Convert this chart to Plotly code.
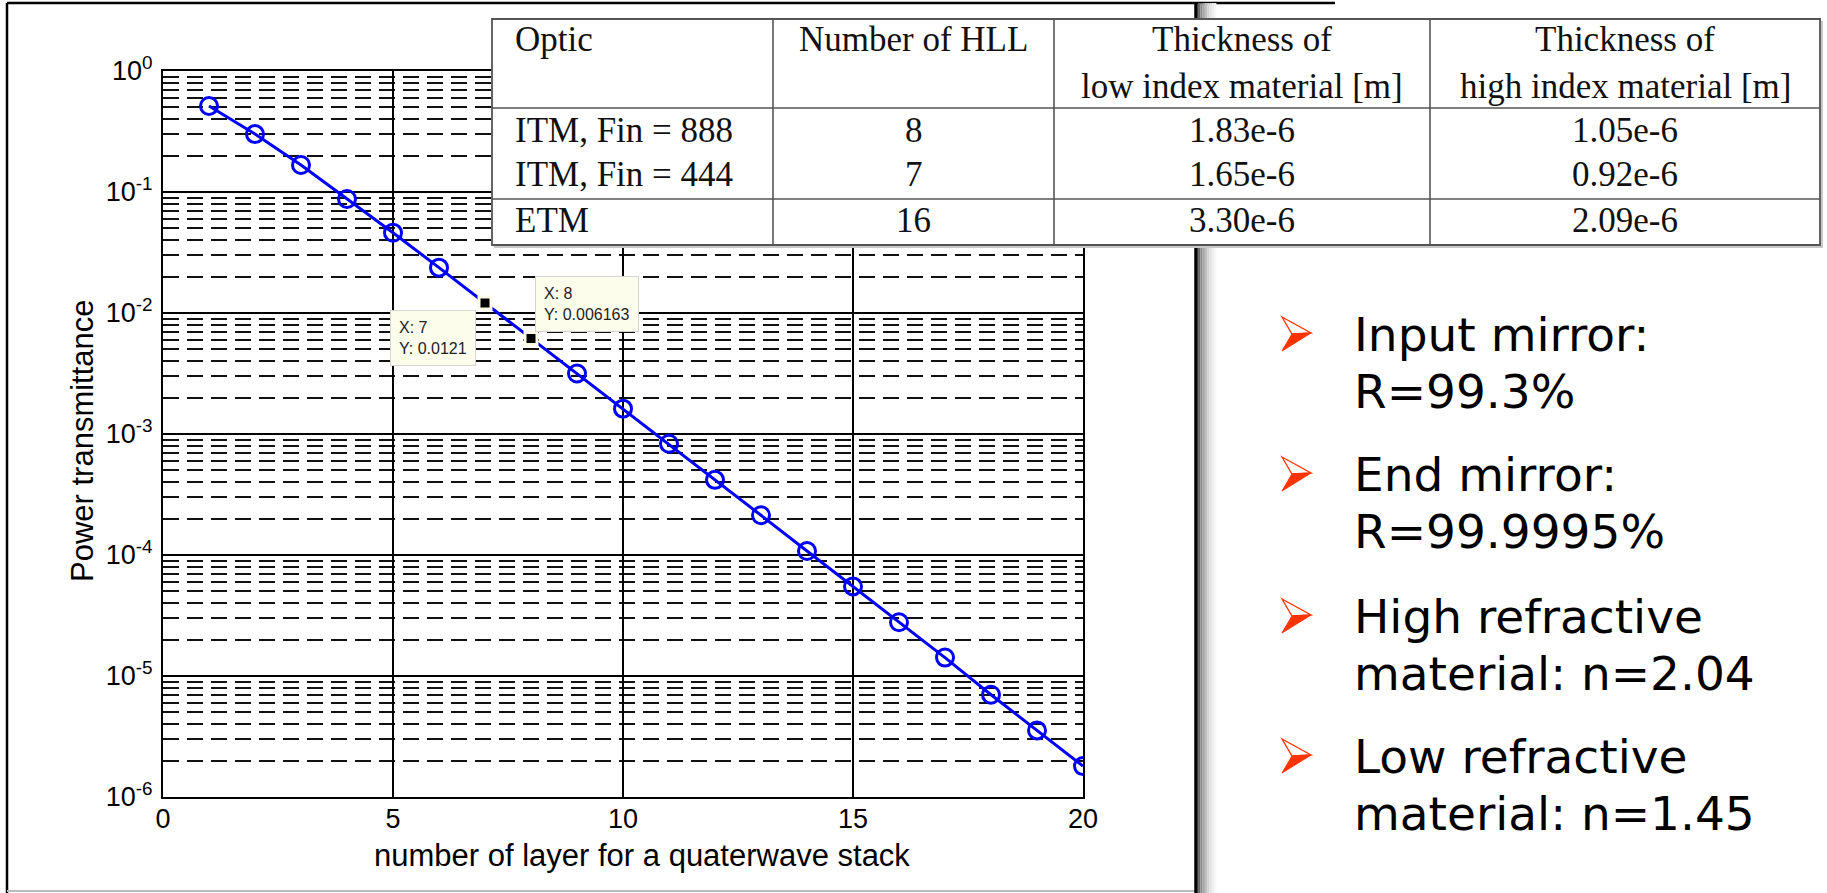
import numpy as np
import plotly.graph_objects as go

# ---------------------------------------------------------------- data
layers = list(range(1, 21))
transmittance = [0.514, 0.301, 0.167, 0.0875, 0.0461, 0.0237, 0.0121, 0.006163,
                 0.00316, 0.00162, 0.00083, 0.000418, 0.000213, 0.000108,
                 5.5e-5, 2.78e-5, 1.42e-5, 7.0e-6, 3.55e-6, 1.8e-6]
tip_layers = [7, 8]

x_ticks = [0, 5, 10, 15, 20]
y_major = [1e-6, 1e-5, 1e-4, 1e-3, 1e-2, 1e-1, 1e0]
y_major_text = ["10<sup>-6</sup>", "10<sup>-5</sup>", "10<sup>-4</sup>", "10<sup>-3</sup>",
                "10<sup>-2</sup>", "10<sup>-1</sup>", "10<sup>0</sup>"]

table_header_1 = ["Optic", "Number of HLL", "Thickness of", "Thickness of"]
table_header_2 = ["", "", "low index material [m]", "high index material [m]"]
table_optic = ["ITM, Fin = 888", "ITM, Fin = 444", "ETM"]
table_hll = ["8", "7", "16"]
table_low = ["1.83e-6", "1.65e-6", "3.30e-6"]
table_high = ["1.05e-6", "0.92e-6", "2.09e-6"]

bullets = [("Input mirror:", "R=99.3%"),
           ("End mirror:", "R=99.9995%"),
           ("High refractive", "material: n=2.04"),
           ("Low refractive", "material: n=1.45")]

# ---------------------------------------------------------------- page geometry (pixels)
W, H = 1827, 893
PL, PR, PT, PB = 163, 1083, 71, 797


def px(x):
    return (x - PL) / (PR - PL)


def py(y):
    return (PB - y) / (PB - PT)


SANS = "Liberation Sans, Arial, sans-serif"
SERIF = "Liberation Serif, Times New Roman, serif"
SLIDE = "DejaVu Sans, Verdana, sans-serif"
BLUE = "#0000FF"

fig = go.Figure()

# curve
fig.add_trace(go.Scatter(x=layers, y=transmittance, mode="lines",
                         line=dict(color=BLUE, width=3), hoverinfo="skip"))
circ_x = [l for l in layers if l not in tip_layers]
circ_y = [t for l, t in zip(layers, transmittance) if l not in tip_layers]
fig.add_trace(go.Scatter(x=circ_x, y=circ_y, mode="markers",
                         marker=dict(symbol="circle-open", size=17, color=BLUE,
                                     line=dict(width=3, color=BLUE))))
tip_x = [l for l in layers if l in tip_layers]
tip_y = [t for l, t in zip(layers, transmittance) if l in tip_layers]
fig.add_trace(go.Scatter(x=tip_x, y=tip_y, mode="markers",
                         marker=dict(symbol="square", size=12, color="black",
                                     line=dict(width=3, color="#FBFBE6"))))

minor_vals = [m * 10.0 ** e for e in range(-6, 0) for m in range(2, 10)]

fig.update_layout(
    width=W, height=H, showlegend=False,
    paper_bgcolor="white", plot_bgcolor="white",
    margin=dict(l=PL, r=W - PR, t=PT, b=H - PB, autoexpand=False),
    xaxis=dict(range=[0, 20], tickvals=x_ticks, ticks="", showgrid=True,
               gridcolor="black", gridwidth=1.5, zeroline=False,
               showline=True, linecolor="black", linewidth=2, mirror=True,
               tickfont=dict(family=SANS, size=27, color="black"),
               ticklabelstandoff=-3),
    yaxis=dict(type="log", range=[-6, 0], tickvals=y_major, ticktext=y_major_text,
               ticks="", showgrid=True, gridcolor="black", gridwidth=2,
               zeroline=False, showline=True, linecolor="black", linewidth=2,
               mirror=True, ticklabelstandoff=3,
               tickfont=dict(family=SANS, size=27, color="black"),
               minor=dict(tickvals=minor_vals, showgrid=True, gridcolor="#111111",
                          gridwidth=2, griddash="16px,8px", ticks="")),
)

shapes = []
anns = []

# axis labels
AXF = dict(family=SANS, size=31, color="black")
anns.append(dict(text="Power transmittance", xref="paper", yref="paper",
                 x=px(83), y=py(441), xanchor="center", yanchor="middle",
                 textangle=-90, showarrow=False, font=AXF))
anns.append(dict(text="number of layer for a quaterwave stack", xref="paper", yref="paper",
                 x=px(642), y=py(855), xanchor="center", yanchor="middle",
                 showarrow=False, font=AXF))

# figure window frame
shapes.append(dict(type="line", xref="paper", yref="paper", x0=px(7), x1=px(7),
                   y0=py(3), y1=py(893), line=dict(color="black", width=2.5), layer="above"))
shapes.append(dict(type="line", xref="paper", yref="paper", x0=px(7), x1=px(1335),
                   y0=py(3), y1=py(3), line=dict(color="black", width=2.5), layer="above"))
shapes.append(dict(type="line", xref="paper", yref="paper", x0=px(7), x1=px(1196),
                   y0=py(891), y1=py(891), line=dict(color="#BBBBBB", width=2), layer="above"))
shade = ["#6a6a6a", "#8a8a8a", "#a6a6a6", "#bebebe", "#d2d2d2", "#e2e2e2", "#eeeeee", "#f7f7f7"]
for i, c in enumerate(shade):
    shapes.append(dict(type="rect", xref="paper", yref="paper",
                       x0=px(1198 + 2.3 * i), x1=px(1200.3 + 2.3 * i), y0=py(3), y1=py(893),
                       line=dict(width=0), fillcolor=c, layer="above"))
shapes.append(dict(type="line", xref="paper", yref="paper", x0=px(1196), x1=px(1196),
                   y0=py(3), y1=py(893), line=dict(color="black", width=3.5), layer="above"))

# table
cols = [492, 773, 1054, 1430, 1820]
rows = [19, 108, 199, 245]
shapes.append(dict(type="rect", xref="paper", yref="paper", x0=px(cols[0] + 2), x1=px(cols[-1] + 3),
                   y0=py(rows[-1] + 3), y1=py(rows[0] + 2), line=dict(width=0),
                   fillcolor="#c8c8c8", layer="above"))
shapes.append(dict(type="rect", xref="paper", yref="paper", x0=px(cols[0]), x1=px(cols[-1]),
                   y0=py(rows[-1]), y1=py(rows[0]), line=dict(color="#555555", width=1.8),
                   fillcolor="white", layer="above"))
for cx in cols[1:-1]:
    shapes.append(dict(type="line", xref="paper", yref="paper", x0=px(cx), x1=px(cx),
                       y0=py(rows[0]), y1=py(rows[-1]), line=dict(color="#555555", width=1.6),
                       layer="above"))
for ry in rows[1:-1]:
    shapes.append(dict(type="line", xref="paper", yref="paper", x0=px(cols[0]), x1=px(cols[-1]),
                       y0=py(ry), y1=py(ry), line=dict(color="#555555", width=1.6),
                       layer="above"))

TF = dict(family=SERIF, size=35, color="#111111")


def cell(text, col, yc):
    if col == 0:
        anns.append(dict(text=text, xref="paper", yref="paper", x=px(513), y=py(yc),
                         xanchor="left", yanchor="middle", showarrow=False, font=TF))
    else:
        xc = (cols[col] + cols[col + 1]) / 2
        anns.append(dict(text=text, xref="paper", yref="paper", x=px(xc), y=py(yc),
                         xanchor="center", yanchor="middle", showarrow=False, font=TF))


for c in range(4):
    cell(table_header_1[c], c, 39)
    if table_header_2[c]:
        cell(table_header_2[c], c, 86)
body_rows_y = [131, 174, 221]
for r in range(3):
    cell(table_optic[r], 0, body_rows_y[r])
    cell(table_hll[r], 1, body_rows_y[r])
    cell(table_low[r], 2, body_rows_y[r])
    cell(table_high[r], 3, body_rows_y[r])

# data tips
tip_offsets = {7: dict(xanchor="right", yanchor="top", xshift=-9, yshift=-7),
               8: dict(xanchor="left", yanchor="bottom", xshift=4, yshift=6)}
for lx, ly in zip(tip_x, tip_y):
    anns.append(dict(text=f"X: {lx}<br>Y: {ly}", xref="x", yref="y", x=lx, y=np.log10(ly),
                     showarrow=False, align="left", bgcolor="#FDFDEC", bordercolor="#D4D4D4",
                     borderwidth=1, borderpad=8,
                     font=dict(family=SANS, size=16, color="#222222"), **tip_offsets[lx]))

# bullet list
first_baselines = [351, 491, 633, 773]
line_gap = 57
BF = dict(family=SLIDE, size=47, color="black")
for (l1, l2), yb in zip(bullets, first_baselines):
    for text, base in ((l1, yb), (l2, yb + line_gap)):
        anns.append(dict(text=text, xref="paper", yref="paper", x=px(1352),
                         y=py(base - 16.3), xanchor="left", yanchor="middle",
                         showarrow=False, font=BF))
    x0 = 1282
    tl, tip, bl, notch = (x0, yb - 34), (x0 + 29, yb - 18), (x0, yb), (x0 + 10, yb - 17)

    def path(pts):
        return "M " + " L ".join(f"{px(a):.5f},{py(b):.5f}" for a, b in pts) + " Z"

    shapes.append(dict(type="path", xref="paper", yref="paper", path=path([tl, tip, notch]),
                       fillcolor="white", line=dict(color="#FF3300", width=1.3), layer="above"))
    shapes.append(dict(type="path", xref="paper", yref="paper", path=path([notch, tip, bl]),
                       fillcolor="#FF3300", line=dict(color="#FF3300", width=1), layer="above"))

fig.update_layout(shapes=shapes, annotations=anns)
fig.write_html("out.html", config={"displayModeBar": False})
